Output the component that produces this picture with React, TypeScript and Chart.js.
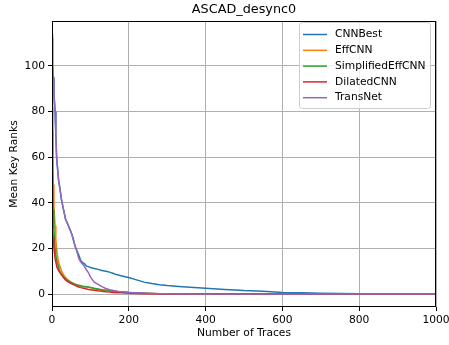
import React, { useEffect, useRef } from "react";
import { Chart, registerables } from "chart.js";

Chart.register(...registerables);

const traces = [0, 1, 2, 3, 5, 8, 10, 12, 15, 17, 20, 25, 30, 35, 40, 45, 50, 55, 60, 65, 70, 75, 80, 85, 90, 95, 100, 110, 120, 130, 140, 150, 160, 170, 180, 190, 200, 220, 240, 260, 280, 300, 330, 360, 400, 450, 500, 550, 600, 650, 700, 750, 800, 850, 900, 1000];

const cnnBest = [112, 106, 100, 95, 88, 80, 70, 60, 54, 50, 47, 41, 37, 33, 31, 29, 27, 24.5, 21, 19, 17, 14.6, 13.8, 13.2, 12.2, 12, 11.6, 11.2, 10.8, 10.3, 10, 9.6, 9, 8.4, 8, 7.6, 7.2, 6.2, 5.2, 4.6, 4.1, 3.7, 3.3, 3, 2.5, 2, 1.5, 1.2, 0.7, 0.5, 0.3, 0.2, 0.1, 0.05, 0, 0];
const effCnn = [82, 65, 55, 48, 38, 30, 24, 20, 16, 14, 12.5, 10, 8.5, 7.3, 6.4, 5.8, 5.2, 4.7, 4.3, 4, 3.7, 3.5, 3.3, 3.2, 3.1, 2.9, 2.7, 2.3, 2, 1.8, 1.6, 1.4, 1.2, 1, 0.9, 0.8, 0.7, 0.5, 0.35, 0.25, 0.15, 0.1, 0.05, 0, 0, 0, 0, 0, 0, 0, 0, 0, 0, 0, 0, 0];
const simplifiedEffCnn = [100, 60, 45, 37, 28, 20, 17, 15, 13, 12, 10, 8.7, 7.6, 6.7, 6, 5.5, 5, 4.6, 4.3, 4, 3.8, 3.6, 3.4, 3.3, 3.2, 3.1, 2.9, 2.5, 2.2, 1.9, 1.7, 1.55, 1.3, 1.1, 1, 0.85, 0.7, 0.5, 0.35, 0.25, 0.15, 0.1, 0.05, 0, 0, 0, 0, 0, 0, 0, 0, 0, 0, 0, 0, 0];
const dilatedCnn = [72, 30, 27, 25, 20, 15.5, 14, 12.5, 11, 10.3, 9.5, 8.3, 7.2, 6.2, 5.5, 5, 4.6, 4.2, 3.8, 3.4, 3.1, 2.8, 2.6, 2.4, 2.2, 2, 1.9, 1.65, 1.4, 1.2, 1, 0.85, 0.7, 0.6, 0.5, 0.4, 0.35, 0.25, 0.15, 0.1, 0.05, 0.02, 0, 0, 0, 0, 0, 0, 0, 0, 0, 0, 0, 0, 0, 0];
const transNet = [114, 107, 100, 95, 88, 80, 70, 60, 54, 50, 47, 41, 37, 33, 31, 29, 27, 24, 21, 18.5, 15.5, 14, 13, 12, 10.5, 9.3, 7.5, 5.2, 4.2, 3.2, 2.4, 1.9, 1.5, 1.2, 1, 0.85, 0.7, 0.55, 0.4, 0.25, 0.15, 0.1, 0.05, 0, 0, 0, 0, 0, 0, 0, 0, 0, 0, 0, 0, 0];

const seriesNames = ["CNNBest", "EffCNN", "SimplifiedEffCNN", "DilatedCNN", "TransNet"];
const seriesValues = [cnnBest, effCnn, simplifiedEffCnn, dilatedCnn, transNet];
const colors = ["#1f77b4", "#ff7f0e", "#2ca02c", "#d62728", "#9467bd"];

const xTicks = [0, 200, 400, 600, 800, 1000];
const yTicks = [0, 20, 40, 60, 80, 100];

const FONT = "'DejaVu Sans', sans-serif";
const TICK_SIZE = 10.7;
const TITLE_SIZE = 12.8;

export default function App() {
  const ref = useRef<HTMLCanvasElement>(null);
  useEffect(() => {
    if (!ref.current) return;
    const datasets = seriesNames.map((name, i) => ({
      label: name,
      data: traces.map((x, j) => ({ x, y: seriesValues[i][j] })),
      borderColor: colors[i],
      backgroundColor: colors[i],
      borderWidth: 1.5,
      pointRadius: 0,
      tension: 0,
      order: seriesNames.length - i,
    }));
    const overlay = {
      id: "overlay",
      afterDraw(chart: any) {
        const { ctx, chartArea: a } = chart;
        ctx.save();
        ctx.strokeStyle = "#000";
        ctx.lineWidth = 1;
        ctx.strokeRect(a.left + 0.5, a.top + 0.5, a.right - a.left - 1, a.bottom - a.top - 1);
        ctx.fillStyle = "#000";
        ctx.font = `${TITLE_SIZE}px ${FONT}`;
        ctx.textAlign = "center";
        ctx.textBaseline = "middle";
        ctx.fillText("ASCAD_desync0", (a.left + a.right) / 2, 10);
        ctx.font = `${TICK_SIZE}px ${FONT}`;
        ctx.fillText("Number of Traces", (a.left + a.right) / 2, 333);
        ctx.save();
        ctx.translate(14, (a.top + a.bottom) / 2);
        ctx.rotate(-Math.PI / 2);
        ctx.fillText("Mean Key Ranks", 0, 0);
        ctx.restore();
        const bx = 299.5, by = 22.5, bw = 131, bh = 86, r = 3;
        ctx.beginPath();
        ctx.moveTo(bx + r, by);
        ctx.lineTo(bx + bw - r, by);
        ctx.quadraticCurveTo(bx + bw, by, bx + bw, by + r);
        ctx.lineTo(bx + bw, by + bh - r);
        ctx.quadraticCurveTo(bx + bw, by + bh, bx + bw - r, by + bh);
        ctx.lineTo(bx + r, by + bh);
        ctx.quadraticCurveTo(bx, by + bh, bx, by + bh - r);
        ctx.lineTo(bx, by + r);
        ctx.quadraticCurveTo(bx, by, bx + r, by);
        ctx.closePath();
        ctx.fillStyle = "rgba(255,255,255,0.8)";
        ctx.fill();
        ctx.strokeStyle = "#cccccc";
        ctx.stroke();
        ctx.textAlign = "left";
        ctx.font = `${TICK_SIZE}px ${FONT}`;
        seriesNames.forEach((name, i) => {
          const y = 34.5 + i * 15.8;
          ctx.strokeStyle = colors[i];
          ctx.lineWidth = 1.5;
          ctx.beginPath();
          ctx.moveTo(303, y);
          ctx.lineTo(327, y);
          ctx.stroke();
          ctx.fillStyle = "#000";
          ctx.fillText(name, 335, y);
        });
        ctx.restore();
      },
    };
    const chart = new Chart(ref.current, {
      type: "line",
      data: { datasets },
      options: {
        animation: false,
        responsive: false,
        layout: { padding: { left: 0, right: 13, top: 21, bottom: 0 } },
        plugins: { legend: { display: false }, title: { display: false }, tooltip: { enabled: false } },
        scales: {
          x: {
            type: "linear",
            min: 0,
            max: 1000,
            afterFit: (s: any) => { s.height = 38; s.paddingLeft = 0; s.paddingRight = 0; },
            afterBuildTicks: (s: any) => { s.ticks = xTicks.map((v) => ({ value: v })); },
            grid: { color: "#b0b0b0", lineWidth: 1, tickLength: 4, tickColor: "#000", drawTicks: true },
            border: { display: false },
            ticks: { color: "#000", font: { family: FONT, size: TICK_SIZE }, padding: 3, maxRotation: 0, callback: (v: any) => String(v) },
          },
          y: {
            type: "linear",
            min: -5.7,
            max: 119.7,
            afterFit: (s: any) => { s.width = 52; s.paddingTop = 0; s.paddingBottom = 0; },
            afterBuildTicks: (s: any) => { s.ticks = yTicks.map((v) => ({ value: v })); },
            grid: { color: "#b0b0b0", lineWidth: 1, tickLength: 4, tickColor: "#000", drawTicks: true },
            border: { display: false },
            ticks: { color: "#000", font: { family: FONT, size: TICK_SIZE }, padding: 3, callback: (v: any) => String(v) },
          },
        },
      },
      plugins: [overlay],
    });
    return () => chart.destroy();
  }, []);
  return (
    <div style={{ position: "fixed", left: 0, top: 0, width: 449, height: 345, background: "#fff" }}>
      <canvas ref={ref} width={449} height={345} style={{ width: 449, height: 345 }} />
    </div>
  );
}
